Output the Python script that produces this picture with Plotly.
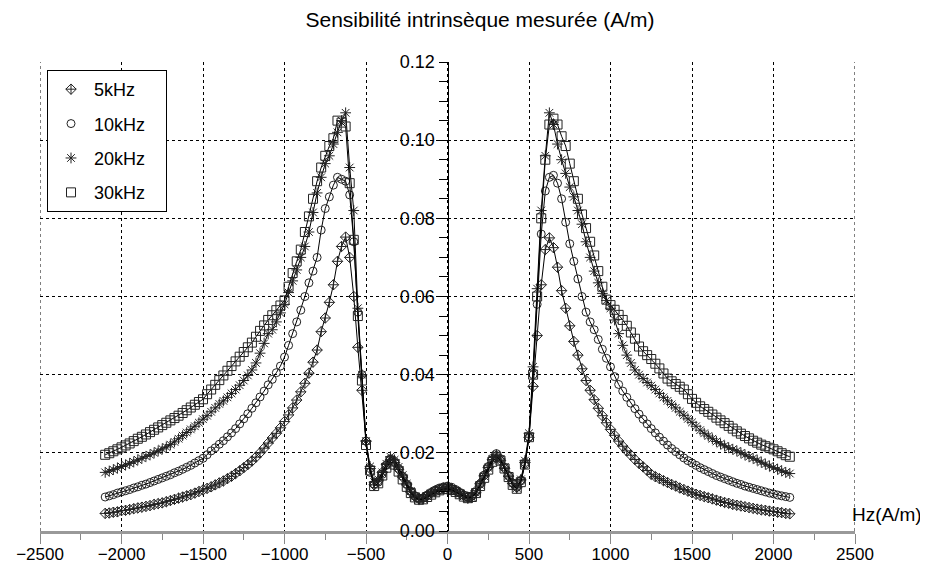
import plotly.graph_objects as go

# Field positions (A/m), regular measurement steps of 25 A/m
HZ = list(range(-2100, 2101, 25))

LABELS = ["5kHz", "10kHz", "20kHz", "30kHz"]

# ---------------- 5 kHz ----------------
Y5_LEFT = [.0045, .0046, .0048, .0049, .0052, .0053, .0055, .0057, .0059, .0061,
           .0063, .0065, .0068, .0070, .0072, .0075, .0078, .0081, .0084, .0087,
           .0090, .0093, .0097, .0101, .0105, .0109, .0113, .0118, .0123, .0128,
           .0134, .0140, .0147, .0154, .0162, .0170, .0179, .0189, .0200, .0212,
           .0225, .0238, .0250, .0264, .0280, .0297, .0315, .0335, .0356, .0378,
           .0404, .0432, .0463, .0510, .0545, .0585, .0630, .0690, .0728, .0752,
           .0700, .0600, .0470, .0360, .0230]
Y5_CENTER = [.0160, .0118, .0128, .0150, .0170, .0182, .0175, .0158, .0138, .0118,
             .0100, .0088, .0082, .0084, .0090, .0097, .0102, .0106, .0110, .0112,
             .0108, .0103, .0097, .0091, .0086, .0090, .0103, .0122, .0142, .0163,
             .0182, .0192, .0180, .0160, .0140, .0122, .0112, .0130, .0175]
Y5_RIGHT = [.0240, .0370, .0500, .0630, .0720, .0750, .0725, .0675, .0615, .0570,
            .0525, .0485, .0450, .0415, .0385, .0360, .0336, .0314, .0295, .0277,
            .0260, .0245, .0230, .0217, .0205, .0194, .0183, .0173, .0164, .0155,
            .0145, .0139, .0134, .0129, .0124, .0119, .0115, .0110, .0106, .0102,
            .0098, .0094, .0091, .0088, .0085, .0082, .0079, .0076, .0073, .0071,
            .0068, .0066, .0064, .0062, .0060, .0058, .0056, .0054, .0053, .0051,
            .0050, .0048, .0047, .0045, .0044]

# ---------------- 10 kHz ----------------
Y10_LEFT = [.0087, .0090, .0093, .0097, .0100, .0103, .0106, .0110, .0113, .0117,
            .0120, .0124, .0128, .0132, .0136, .0140, .0144, .0149, .0153, .0158,
            .0163, .0168, .0174, .0180, .0186, .0195, .0205, .0213, .0222, .0231,
            .0241, .0251, .0262, .0274, .0287, .0300, .0314, .0328, .0343, .0358,
            .0374, .0388, .0405, .0422, .0445, .0475, .0505, .0535, .0565, .0600,
            .0635, .0665, .0700, .0770, .0825, .0855, .0885, .0905, .0900, .0895,
            .0860, .0740, .0560, .0400, .0230]
Y10_CENTER = [.0150, .0120, .0125, .0145, .0168, .0185, .0178, .0160, .0140, .0120,
              .0102, .0090, .0084, .0085, .0092, .0099, .0105, .0110, .0113, .0115,
              .0112, .0106, .0099, .0092, .0087, .0089, .0100, .0120, .0143, .0165,
              .0186, .0198, .0185, .0163, .0142, .0123, .0112, .0128, .0170]
Y10_RIGHT = [.0240, .0400, .0580, .0760, .0870, .0905, .0910, .0890, .0850, .0790,
             .0735, .0690, .0645, .0600, .0560, .0535, .0515, .0490, .0465, .0442,
             .0420, .0395, .0375, .0358, .0342, .0327, .0313, .0299, .0286, .0274,
             .0262, .0251, .0240, .0230, .0220, .0211, .0203, .0195, .0187, .0180,
             .0174, .0168, .0162, .0157, .0152, .0147, .0142, .0138, .0134, .0130,
             .0126, .0122, .0119, .0115, .0112, .0109, .0106, .0103, .0100, .0097,
             .0095, .0092, .0090, .0088, .0086]

# ---------------- 20 kHz ----------------
Y20_LEFT = [.0150, .0153, .0157, .0161, .0165, .0169, .0173, .0177, .0182, .0186,
            .0191, .0195, .0200, .0205, .0210, .0215, .0221, .0228, .0236, .0244,
            .0252, .0260, .0268, .0277, .0286, .0295, .0305, .0315, .0325, .0333,
            .0342, .0352, .0362, .0373, .0385, .0398, .0412, .0430, .0455, .0480,
            .0505, .0515, .0535, .0558, .0580, .0610, .0640, .0668, .0700, .0728,
            .0765, .0815, .0865, .0905, .0940, .0960, .0990, .1020, .1050, .1070,
            .0930, .0820, .0570, .0400, .0230]
Y20_CENTER = [.0165, .0125, .0132, .0150, .0172, .0190, .0182, .0164, .0143, .0121,
              .0102, .0088, .0080, .0082, .0089, .0096, .0102, .0106, .0109, .0110,
              .0106, .0101, .0095, .0089, .0083, .0086, .0098, .0118, .0140, .0162,
              .0183, .0195, .0184, .0163, .0141, .0121, .0110, .0132, .0180]
Y20_RIGHT = [.0250, .0420, .0620, .0820, .0960, .1070, .1040, .0990, .0950, .0915,
             .0880, .0855, .0820, .0785, .0740, .0700, .0665, .0635, .0608, .0590,
             .0570, .0540, .0505, .0475, .0450, .0430, .0412, .0400, .0390, .0380,
             .0372, .0362, .0352, .0342, .0333, .0324, .0315, .0305, .0296, .0287,
             .0278, .0268, .0258, .0250, .0243, .0236, .0229, .0223, .0218, .0213,
             .0209, .0205, .0200, .0195, .0190, .0186, .0181, .0176, .0171, .0166,
             .0162, .0158, .0154, .0150, .0147]

# ---------------- 30 kHz ----------------
Y30_LEFT = [.0195, .0199, .0204, .0209, .0214, .0219, .0224, .0230, .0236, .0241,
            .0247, .0253, .0259, .0265, .0271, .0277, .0283, .0289, .0295, .0302,
            .0309, .0316, .0323, .0330, .0337, .0350, .0362, .0374, .0386, .0398,
            .0410, .0422, .0434, .0446, .0458, .0470, .0482, .0497, .0512, .0526,
            .0540, .0552, .0565, .0577, .0590, .0625, .0660, .0690, .0720, .0765,
            .0805, .0850, .0895, .0930, .0960, .0985, .1005, .1050, .1045, .1035,
            .0890, .0745, .0550, .0385, .0220]
Y30_CENTER = [.0155, .0115, .0122, .0142, .0162, .0178, .0170, .0152, .0132, .0113,
              .0097, .0086, .0080, .0081, .0087, .0093, .0099, .0104, .0107, .0108,
              .0105, .0100, .0094, .0088, .0084, .0087, .0097, .0115, .0136, .0157,
              .0177, .0190, .0180, .0160, .0138, .0118, .0108, .0125, .0170]
Y30_RIGHT = [.0240, .0400, .0600, .0800, .0950, .1040, .1055, .1040, .1010, .0985,
             .0940, .0895, .0850, .0810, .0775, .0740, .0705, .0665, .0625, .0592,
             .0578, .0566, .0553, .0540, .0525, .0508, .0492, .0472, .0460, .0450,
             .0440, .0428, .0416, .0403, .0390, .0383, .0376, .0369, .0362, .0350,
             .0338, .0328, .0319, .0312, .0305, .0298, .0290, .0283, .0276, .0269,
             .0262, .0255, .0249, .0243, .0237, .0231, .0226, .0221, .0217, .0213,
             .0209, .0204, .0199, .0194, .0190]

SERIES = [
    Y5_LEFT + Y5_CENTER + Y5_RIGHT,
    Y10_LEFT + Y10_CENTER + Y10_RIGHT,
    Y20_LEFT + Y20_CENTER + Y20_RIGHT,
    Y30_LEFT + Y30_CENTER + Y30_RIGHT,
]

SYMBOLS = ["diamond-cross-open", "circle-open", "asterisk-open", "square-open"]
SIZES = [8, 8, 9, 9]

X_TICKS = [-2500, -2000, -1500, -1000, -500, 0, 500, 1000, 1500, 2000, 2500]
Y_TICKS = [0.00, 0.02, 0.04, 0.06, 0.08, 0.10, 0.12]
X_RANGE = [-2500, 2500]
Y_RANGE = [0, 0.12]

FONT = "Liberation Sans, Arial, Helvetica, sans-serif"
W, H = 920, 565  # the page body adds an 8px margin

fig = go.Figure()

for name, ys, sym, sz in zip(LABELS, SERIES, SYMBOLS, SIZES):
    fig.add_trace(go.Scatter(
        x=HZ, y=ys, mode="lines+markers", name=name, showlegend=False,
        line=dict(color="black", width=1),
        marker=dict(symbol=sym, size=sz, color="#222222", line=dict(width=1, color="#222222")),
    ))

for name, sym, sz in zip(LABELS, SYMBOLS, SIZES):
    fig.add_trace(go.Scatter(
        x=[None], y=[None], mode="markers", name=name + "\u00a0\u00a0\u00a0", legendgroup=name,
        marker=dict(symbol=sym, size=sz, color="#222222", line=dict(width=1, color="#222222")),
    ))

# dotted grid lines at the two range edges (plotly omits them)
for xv in X_RANGE:
    fig.add_shape(type="line", xref="x", yref="paper", x0=xv, x1=xv, y0=0, y1=1,
                  line=dict(color="black", width=1, dash="dot"), layer="below")

fig.update_layout(
    width=W, height=H,
    margin=dict(l=32, r=73, t=54, b=42),
    paper_bgcolor="white", plot_bgcolor="white",
    font=dict(family=FONT, size=18, color="black"),
    title=dict(text="Sensibilité intrinsèque mesurée (A/m)", xref="container", x=472/W,
               xanchor="center", y=1 - 12/H, yanchor="middle",
               font=dict(family=FONT, size=21, color="black")),
    xaxis=dict(range=X_RANGE, tickvals=X_TICKS, showgrid=True, gridcolor="black",
               griddash="dot", gridwidth=1, zeroline=False, showline=True, automargin=False,
               linecolor="#999999", linewidth=3, ticks="outside", ticklen=10,
               tickcolor="#888888", tickwidth=1, tickfont=dict(size=17),
               ticklabelstandoff=-4,
               minor=dict(dtick=250, tick0=0, ticks="outside", ticklen=6, tickcolor="#888888",
                          showgrid=False)),
    yaxis=dict(range=Y_RANGE, tickvals=Y_TICKS, tickformat=".2f", anchor="free", position=0.5,
               showgrid=True, gridcolor="black", griddash="dot", gridwidth=1, zeroline=False,
               showline=True, linecolor="black", linewidth=1, ticks="outside", ticklen=9,
               automargin=False, tickcolor="black", tickfont=dict(size=18),
               minor=dict(dtick=0.005, tick0=0, ticks="outside", ticklen=9, tickcolor="black",
                          showgrid=False)),
    legend=dict(x=0.0086, y=0.983, xanchor="left", yanchor="top", bgcolor="white",
                bordercolor="black", borderwidth=1, font=dict(size=18),
                tracegroupgap=8, itemwidth=36),
    annotations=[dict(text="Hz(A/m)", xref="paper", yref="y", x=0.994, y=0.0041,
                      xanchor="left", yanchor="middle", showarrow=False,
                      font=dict(family=FONT, size=19, color="black"))],
)

fig.write_html("out.html")
